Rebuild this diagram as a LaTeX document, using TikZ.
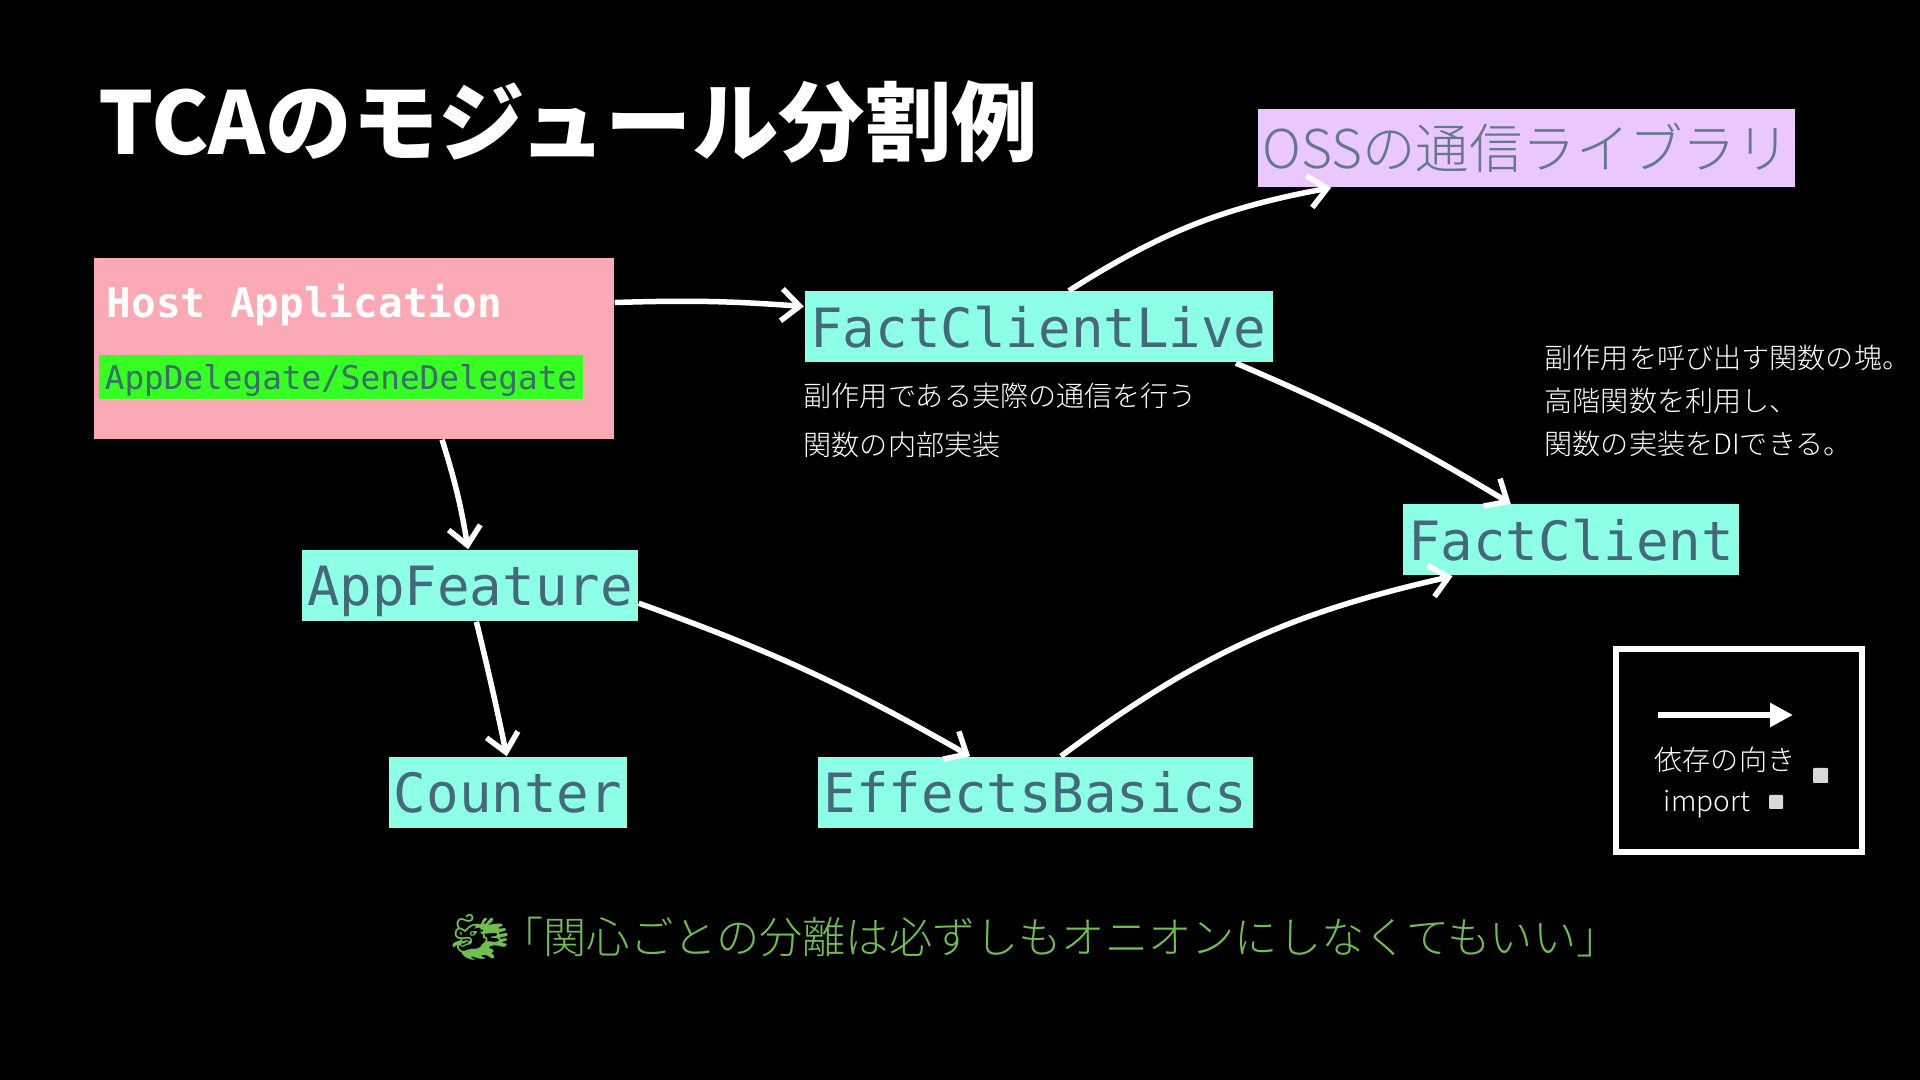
\documentclass[tikz,border=0pt]{standalone}
\usepackage{fontspec}
\usepackage{xcolor}
\usetikzlibrary{arrows.meta, calc}
\setmainfont{Noto Sans CJK JP}
\newfontfamily\lightjp{Noto Sans CJK JP Light}
\newfontfamily\monofont{DejaVu Sans Mono}
\newfontfamily\emojifont{Noto Emoji}
\definecolor{modteal}{HTML}{8CFFE6}
\definecolor{modpink}{HTML}{FCA9B6}
\definecolor{modlilac}{HTML}{EBC7FF}
\definecolor{modgreen}{HTML}{36FF22}
\definecolor{modtext}{HTML}{46697A}
\definecolor{delegatetext}{HTML}{3E6B6E}
\definecolor{osstext}{HTML}{64788C}
\definecolor{quotegreen}{HTML}{70BF50}
\tikzset{
    modbox/.style={fill=modteal, text=modtext, inner sep=0pt, minimum height=0.71cm, text height=0.41cm, text depth=0cm, font=\monofont\fontsize{15.4}{18}\selectfont},
    note/.style={text=white, inner sep=0pt, anchor=west, font=\lightjp\fontsize{8}{10}\selectfont},
    dep/.style={draw=white, line width=0.055cm, -{Straight Barb[length=0.18cm,width=0.32cm]}},
}
\begin{document}
\begin{tikzpicture}
    \useasboundingbox (0,0) rectangle (19.2,10.8);
    \fill[black] (0,0) rectangle (19.2,10.8);
    % Title
    \node[text=white, inner sep=0pt, anchor=west, font=\bfseries\fontsize{24.6}{28}\selectfont] (title) at (0.98,9.58) {TCAのモジュール分割例};
    % Modules
    \node[fill=modpink, inner sep=0pt, minimum width=5.2cm, minimum height=1.81cm] (host) at (3.54,7.315) {};
    \node[text=white, inner sep=0pt, anchor=west, font=\monofont\bfseries\fontsize{11.67}{14}\selectfont] (hostname) at (1.06,7.75) {Host Application};
    \node[fill=modgreen, text=delegatetext, inner sep=0pt, minimum width=4.84cm, minimum height=0.44cm, text height=0.25cm, text depth=0cm, font=\monofont\fontsize{9.3}{11}\selectfont] (delegate) at (3.41,7.03) {AppDelegate/SeneDelegate};
    \node[modbox, minimum width=4.68cm] (live) at (10.385,7.53) {FactClientLive};
    \node[modbox, minimum width=3.36cm] (client) at (15.71,5.40) {FactClient};
    \node[modbox, minimum width=3.36cm] (feature) at (4.70,4.945) {AppFeature};
    \node[modbox, minimum width=2.38cm] (counter) at (5.08,2.875) {Counter};
    \node[modbox, minimum width=4.35cm] (effects) at (10.355,2.875) {EffectsBasics};
    \node[fill=modlilac, text=osstext, inner sep=0pt, minimum width=5.37cm, minimum height=0.78cm, font=\lightjp\fontsize{15.2}{18}\selectfont] (oss) at (15.26,9.32) {OSSの通信ライブラリ};
    % Dependencies
    \draw[dep] (host.10) to[bend left=3] (live.175);
    \draw[dep] (host.-46) to[bend left=4] (feature.93);
    \draw[dep] (feature.-80) to[bend left=1] (counter.92);
    \draw[dep] (feature.-6) to[bend left=5] (effects.151);
    \draw[dep] (effects.55) to[bend left=12] (client.197);
    \draw[dep] ([xshift=-0.08cm]live.-10) to[bend left=4] (client.149);
    \draw[dep] (live.50) to[bend left=11] ([xshift=-0.08cm]oss.192);
    % Notes
    \node[note] (liveone) at (8.03,6.84) {副作用である実際の通信を行う};
    \node[note] (livetwo) at (8.03,6.35) {関数の内部実装};
    \node[note] (clientone) at (15.44,7.22) {副作用を呼び出す関数の塊。};
    \node[note] (clienttwo) at (15.44,6.79) {高階関数を利用し、};
    \node[note] (clientthree) at (15.44,6.36) {関数の実装をDIできる。};
    % Legend
    \node[draw=white, line width=0.065cm, inner sep=0pt, minimum width=2.46cm, minimum height=2.03cm] (legend) at (17.39,3.295) {};
    \coordinate (depfrom) at (16.58,3.65);
    \coordinate (depto) at (17.93,3.65);
    \draw[white, line width=0.06cm, -{Triangle[length=0.23cm,width=0.23cm]}] (depfrom) -- (depto);
    \node[note, anchor=center] (legendone) at (17.25,3.2) {依存の向き};
    \node[note, anchor=center] (legendtwo) at (17.07,2.755) {import};
    \fill[gray!30, rounded corners=0.01cm] (18.13,3.12) rectangle (18.28,2.97);
    \fill[gray!30, rounded corners=0.01cm] (17.69,2.85) rectangle (17.83,2.71);
    % Quote
    \node[text=quotegreen, inner sep=0pt, font=\emojifont\fontsize{13.5}{16}\selectfont] (dragon) at (4.81,1.43) {🐲};
    \node[text=quotegreen, inner sep=0pt, font=\lightjp\fontsize{12.3}{14}\selectfont] (quote) at (10.6,1.43) {「関心ごとの分離は必ずしもオニオンにしなくてもいい」};
\end{tikzpicture}
\end{document}
